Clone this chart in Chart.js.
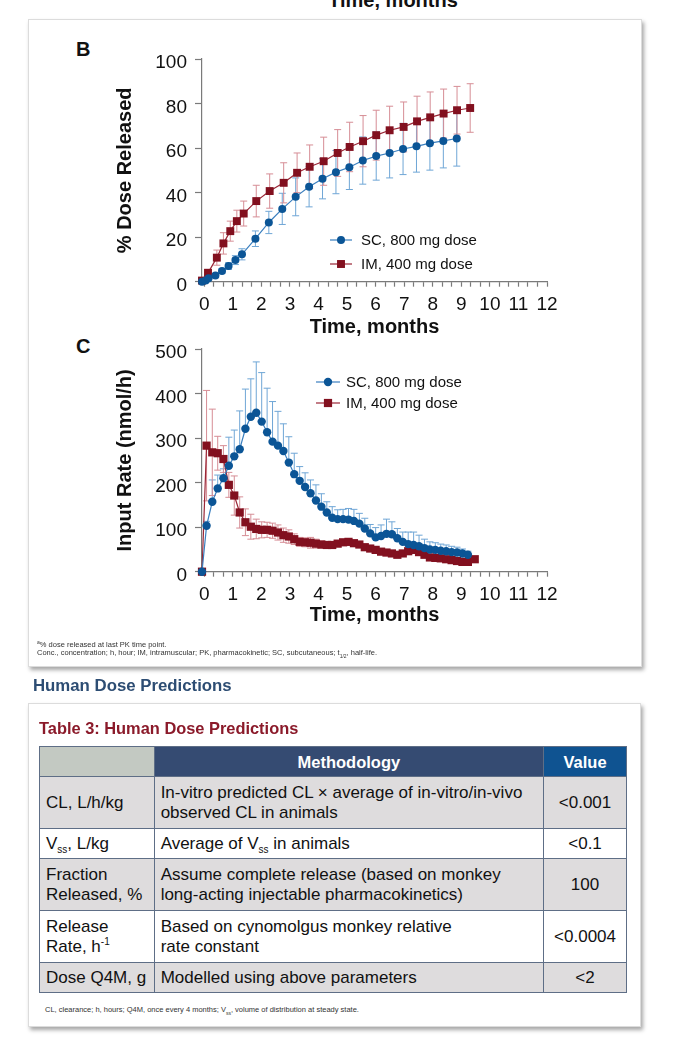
<!DOCTYPE html>
<html>
<head>
<meta charset="utf-8">
<script src="https://cdn.jsdelivr.net/npm/chart.js@4.4.0/dist/chart.umd.min.js"></script>
<style>
  body { margin: 0; background: #fff; font-family: "Liberation Sans", Arial, sans-serif; color: #111; width: 679px; height: 1043px; position: relative; overflow: hidden; }
  .abs { position: absolute; white-space: nowrap; }
  .card { position: absolute; background: #fff; border: 1px solid #dcdcdc; box-shadow: 2px 3px 4px rgba(0,0,0,0.35); }
  .panel { font-weight: bold; font-size: 20px; line-height: 20px; left: 76px; }
  .note { font-size: 7.5px; line-height: 9px; color: #333; }
  canvas { position: absolute; }
  table { position: absolute; left: 39px; top: 746px; width: 588px; border-collapse: collapse; font-size: 17px; color: #111; }
  td, th { border: 1px solid #5e6e86; padding: 0 6px; line-height: 20px; text-align: left; }
  th { color: #fff; font-weight: bold; text-align: center; font-size: 16.5px; }
  .g td { background: #dedcdd; }
  .w td { background: #fff; }
  td.v { text-align: center; }
  sub, sup { font-size: 10px; line-height: 0; }
</style>
</head>
<body>

<div class="abs" style="left:0;width:786px;text-align:center;top:-10px;font-weight:bold;font-size:20px;line-height:20px;">Time, months</div>

<div class="card" style="left:28px;top:19px;width:612px;height:646px;"></div>
<div class="abs panel" style="top:39px;">B</div>
<div class="abs panel" style="top:336px;">C</div>
<canvas id="chartB" width="540" height="300" style="left:40px;top:40px;"></canvas>
<canvas id="chartC" width="540" height="300" style="left:40px;top:330px;"></canvas>
<div class="abs note" style="left:37px;top:640px;"><sup style="font-size:5px">a</sup>% dose released at last PK time point.</div>
<div class="abs note" style="left:37px;top:648px;">Conc., concentration; h, hour; IM, intramuscular; PK, pharmacokinetic; SC, subcutaneous; t<sub style="font-size:5px">1/2</sub>, half-life.</div>

<div class="abs" style="left:33px;top:676px;font-weight:bold;font-size:16.8px;line-height:20px;color:#2d4d73;">Human Dose Predictions</div>

<div class="card" style="left:28px;top:703px;width:611px;height:322px;"></div>
<div class="abs" style="left:39px;top:718px;font-weight:bold;font-size:16.4px;line-height:20px;color:#8b1a2a;">Table 3: Human Dose Predictions</div>
<table>
  <tr style="height:30px;">
    <th style="width:102px;background:#c3c9c2;"></th>
    <th style="width:380px;background:#354b72;">Methodology</th>
    <th style="width:70px;background:#0f5391;">Value</th>
  </tr>
  <tr class="g" style="height:52px;">
    <td>CL, L/h/kg</td>
    <td>In-vitro predicted CL × average of in-vitro/in-vivo<br>observed CL in animals</td>
    <td class="v">&lt;0.001</td>
  </tr>
  <tr class="w" style="height:30px;">
    <td>V<sub>ss</sub>, L/kg</td>
    <td>Average of V<sub>ss</sub> in animals</td>
    <td class="v">&lt;0.1</td>
  </tr>
  <tr class="g" style="height:52px;">
    <td>Fraction<br>Released, %</td>
    <td>Assume complete release (based on monkey<br>long-acting injectable pharmacokinetics)</td>
    <td class="v">100</td>
  </tr>
  <tr class="w" style="height:52px;">
    <td>Release<br>Rate, h<sup>-1</sup></td>
    <td>Based on cynomolgus monkey relative<br>rate constant</td>
    <td class="v">&lt;0.0004</td>
  </tr>
  <tr class="g" style="height:30px;">
    <td>Dose Q4M, g</td>
    <td>Modelled using above parameters</td>
    <td class="v">&lt;2</td>
  </tr>
</table>
<div class="abs note" style="left:45px;top:1005px;">CL, clearance; h, hours; Q4M, once every 4 months; V<sub style="font-size:5px">ss</sub>, volume of distribution at steady state.</div>

<script>
// Panel B: % dose released (mean, SD)
const bTimeSC = [-0.08, 0.05, 0.15, 0.39, 0.62, 0.85, 1.09, 1.32, 1.79, 2.26, 2.73, 3.2, 3.67, 4.14, 4.61, 5.08, 5.55, 6.02, 6.49, 6.96, 7.43, 7.9, 8.37, 8.84];
const bSC = [0, 0.5, 1.6, 2.8, 4.8, 7.0, 9.7, 12.3, 19.3, 26.6, 32.7, 38.1, 42.6, 46.2, 49.2, 51.4, 54.4, 56.4, 57.8, 59.6, 60.8, 62.2, 63.2, 64.3];
const bSCsd = [0, 0.3, 0.5, 0.8, 1.0, 1.5, 2.0, 2.5, 3.5, 5.0, 7.0, 8.5, 9.0, 9.0, 9.7, 10.0, 10.6, 10.8, 11.2, 11.5, 11.6, 12.1, 12.1, 12.4];
const bTimeIM = [-0.08, 0.13, 0.44, 0.67, 0.91, 1.14, 1.38, 1.82, 2.29, 2.78, 3.25, 3.69, 4.18, 4.67, 5.09, 5.56, 6.02, 6.49, 6.98, 7.45, 7.91, 8.38, 8.85, 9.31];
const bIM = [0.5, 4.0, 10.8, 17.2, 22.7, 27.2, 30.6, 36.2, 40.7, 44.4, 48.9, 51.6, 54.1, 57.8, 60.5, 63.1, 65.8, 68.0, 69.5, 72.0, 73.8, 75.5, 77.0, 78.0];
const bIMsd = [0.5, 1.5, 3.4, 4.8, 4.5, 4.9, 5.6, 7.1, 7.7, 9.0, 8.9, 9.8, 10.8, 10.5, 11.1, 11.5, 11.2, 10.8, 11.2, 11.3, 11.4, 11.0, 10.7, 10.9];

// Panel C: input rate, nmol/h (mean, SD)
const cTimeSC = [-0.08, 0.08, 0.28, 0.47, 0.67, 0.86, 1.05, 1.24, 1.44, 1.63,
  1.82, 2.01, 2.2, 2.39, 2.58, 2.77, 2.96, 3.15, 3.34, 3.53,
  3.72, 3.91, 4.1, 4.29, 4.48, 4.67, 4.86, 5.05, 5.24, 5.43,
  5.62, 5.81, 6.0, 6.19, 6.38, 6.57, 6.76, 6.95, 7.14, 7.33,
  7.52, 7.71, 7.9, 8.09, 8.28, 8.47, 8.66, 8.85, 9.04, 9.23];
const cSC = [0, 103, 157, 187, 210, 238, 259, 275, 321, 348,
  357, 337, 313, 292, 283, 271, 245, 219, 204, 190,
  176, 160, 146, 133, 121, 118, 118, 117, 114, 108,
  97, 86, 77, 80, 85, 84, 75, 67, 62, 60,
  57, 53, 50, 49, 47, 46, 44, 43, 41, 38];
const cSCsd = [0, 10, 49, 30, 21, 64, 59, 86, 89, 85,
  114, 110, 99, 90, 77, 61, 58, 47, 32, 32,
  30, 35, 29, 24, 25, 21, 22, 25, 26, 23,
  23, 20, 22, 25, 33, 28, 22, 22, 27, 29,
  25, 20, 17, 16, 15, 14, 13, 12, 10, 8];
const cTimeIM = [-0.08, 0.08, 0.28, 0.47, 0.67, 0.86, 1.05, 1.24, 1.44, 1.63,
  1.82, 2.01, 2.2, 2.39, 2.58, 2.77, 2.96, 3.15, 3.34, 3.53,
  3.72, 3.91, 4.1, 4.29, 4.48, 4.67, 4.86, 5.05, 5.24, 5.43,
  5.62, 5.81, 6.0, 6.19, 6.38, 6.57, 6.76, 6.95, 7.14, 7.33,
  7.52, 7.71, 7.9, 8.09, 8.28, 8.47, 8.66, 8.85, 9.04, 9.23, 9.47];
const cIM = [0, 283, 268, 266, 253, 195, 171, 133, 111, 101,
  96, 94, 94, 92, 88, 82, 79, 73, 67, 66,
  65, 63, 61, 60, 60, 63, 66, 67, 64, 61,
  55, 52, 49, 45, 43, 41, 38, 41, 46, 49,
  44, 38, 32, 31, 30, 28, 26, 24, 22, 22, 28];
const cIMsd = [0, 124, 97, 38, 30, 28, 44, 35, 30, 28,
  22, 18, 17, 17, 17, 16, 15, 12, 10, 10,
  12, 10, 8, 6, 5, 5, 5, 5, 5, 5,
  5, 5, 5, 5, 5, 5, 5, 5, 5, 5,
  5, 5, 5, 5, 5, 5, 5, 5, 5, 5, 5];

const seriesNames = ["SC, 800 mg dose", "IM, 400 mg dose"];
const xTickLabels = ["0", "1", "2", "3", "4", "5", "6", "7", "8", "9", "10", "11", "12"];

const blue = "#0b5596", blueLine = "#3a7fbf", blueErr = "#6fa6d6";
const red = "#82101f", redLine = "#9a2636", redErr = "#d68d95";
const font = "'Liberation Sans', Arial, sans-serif";

const pts = (xs, ys) => xs.map((x, i) => ({ x: x, y: ys[i] }));

// error bars drawn under the markers
const errorBars = {
  id: "errorBars",
  beforeDatasetsDraw(chart) {
    const { ctx, scales: { x, y } } = chart;
    chart.data.datasets.forEach((ds) => {
      ctx.save();
      ctx.strokeStyle = ds.errColor;
      ctx.lineWidth = 1;
      ds.data.forEach((p, i) => {
        const sd = ds.errors[i];
        if (!sd) return;
        const px = x.getPixelForValue(p.x);
        const top = y.getPixelForValue(p.y + sd);
        const bot = ds.upOnly ? y.getPixelForValue(p.y) : y.getPixelForValue(Math.max(p.y - sd, 0));
        const cap = 3.5;
        ctx.beginPath();
        ctx.moveTo(px, top); ctx.lineTo(px, bot);
        ctx.moveTo(px - cap, top); ctx.lineTo(px + cap, top);
        if (!ds.upOnly) { ctx.moveTo(px - cap, bot); ctx.lineTo(px + cap, bot); }
        ctx.stroke();
      });
      ctx.restore();
    });
  }
};

// small in-plot legend
const inLegend = {
  id: "inLegend",
  afterDraw(chart, args, opts) {
    const ctx = chart.ctx;
    chart.data.datasets.forEach((ds, i) => {
      const y = opts.y + i * opts.gap;
      ctx.save();
      ctx.strokeStyle = ds.borderColor;
      ctx.lineWidth = 1.2;
      ctx.beginPath();
      ctx.moveTo(opts.x, y); ctx.lineTo(opts.x + opts.len, y);
      ctx.stroke();
      ctx.fillStyle = ds.pointBackgroundColor;
      const cx = opts.x + opts.len / 2;
      if (ds.pointStyle === "rect") {
        const s = ds.pointRadius * Math.SQRT1_2;
        ctx.fillRect(cx - s, y - s, 2 * s, 2 * s);
      } else {
        ctx.beginPath(); ctx.arc(cx, y, ds.pointRadius, 0, Math.PI * 2); ctx.fill();
      }
      ctx.fillStyle = "#111";
      ctx.font = "15px " + font;
      ctx.textBaseline = "middle";
      ctx.fillText(ds.label, opts.x + opts.len + opts.textGap, y + 1);
      ctx.restore();
    });
  }
};

function makeChart(id, datasets, yMax, yStep, yTitle, xTitlePad, legend) {
  return new Chart(document.getElementById(id), {
    type: "scatter",
    data: { datasets: datasets },
    plugins: [errorBars, inLegend],
    options: {
      responsive: false,
      animation: false,
      layout: { padding: { top: 19, right: 33, left: 0, bottom: 0 } },
      plugins: { legend: { display: false }, tooltip: { enabled: false }, inLegend: legend },
      scales: {
        x: {
          type: "linear",
          min: -0.08,
          max: 12,
          afterBuildTicks: (s) => {
            const t = [];
            for (let i = 0; i <= 36; i++) t.push({ value: i / 3 });
            s.ticks = t;
          },
          afterFit: (s) => { s.height = 58.3; },
          border: { color: "#7a7a7a", width: 1.2 },
          grid: { drawOnChartArea: false, tickLength: 5, color: "#7a7a7a", tickWidth: 1.2 },
          ticks: {
            autoSkip: false, maxRotation: 0, padding: 9, color: "#111",
            font: { family: font, size: 19, lineHeight: 1 },
            callback: (v) => {
              const r = Math.round(v);
              return Math.abs(v - r) < 1e-6 ? xTickLabels[r] : "";
            }
          },
          title: { display: true, text: "Time, months", color: "#111", font: { family: font, size: 20, weight: "bold" }, padding: { top: 0, bottom: xTitlePad } }
        },
        y: {
          min: 0,
          max: yMax,
          afterFit: (s) => { s.width = 162; },
          border: { color: "#7a7a7a", width: 1.2 },
          grid: { drawOnChartArea: false, tickLength: 7, color: "#7a7a7a", tickWidth: 1.2 },
          ticks: { stepSize: yStep, padding: 8, labelOffset: 4, color: "#111", font: { family: font, size: 19, lineHeight: 1 } },
          title: { display: true, text: yTitle, color: "#111", font: { family: font, size: 20, weight: "bold" }, padding: { top: 73, bottom: 0 } }
        }
      }
    }
  });
}

function series(label, xs, ys, sd, isSC, radius, upOnly) {
  return {
    label: label,
    data: pts(xs, ys),
    errors: sd,
    upOnly: upOnly,
    errColor: isSC ? blueErr : redErr,
    showLine: true,
    borderColor: isSC ? blueLine : redLine,
    borderWidth: 1.2,
    pointStyle: isSC ? "circle" : "rect",
    pointRadius: radius,
    pointBackgroundColor: isSC ? blue : red,
    pointBorderColor: isSC ? blue : red,
    pointBorderWidth: 0,
    clip: false
  };
}

makeChart("chartB", [
  series(seriesNames[0], bTimeSC, bSC, bSCsd, true, 4, false),
  series(seriesNames[1], bTimeIM, bIM, bIMsd, false, 5.6, false)
], 100, 20, "% Dose Released", 1, { x: 290, y: 200, gap: 24, len: 22, textGap: 9 });

makeChart("chartC", [
  series(seriesNames[0], cTimeSC, cSC, cSCsd, true, 4.2, true),
  series(seriesNames[1], cTimeIM, cIM, cIMsd, false, 5.8, false)
], 500, 100, "Input Rate (nmol/h)", 3, { x: 276, y: 52, gap: 21, len: 24, textGap: 6 });
</script>
</body>
</html>
